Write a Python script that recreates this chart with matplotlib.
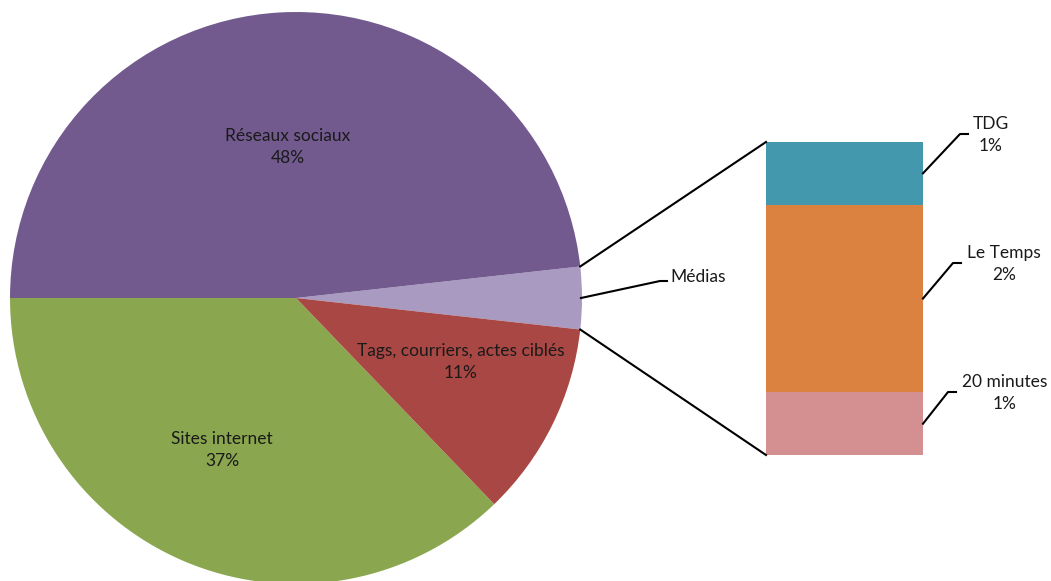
import numpy as np
import matplotlib
matplotlib.use('Agg')
import matplotlib.pyplot as plt

plt.rcParams['font.family'] = ['Lato', 'DejaVu Sans']

# pie data (counterclockwise from the right)
pie_labels = ['Médias', 'Réseaux sociaux', 'Sites internet', 'Tags, courriers, actes ciblés']
pie_values = [3.5, 48, 37, 11]
pie_colors = ['#a89ac0', '#725a8f', '#8aa64f', '#a94744']

# breakdown of "Médias" (top to bottom)
bar_labels = ['TDG', 'Le Temps', '20 minutes']
bar_values = [0.7, 2.1, 0.7]
bar_colors = ['#4398ae', '#db8240', '#d49090']

W, H = 1051, 581
fig = plt.figure(figsize=(W / 100, H / 100), dpi=100)
ax = fig.add_axes([0, 0, 1, 1])

cx, cy, r = 296, 581 - 298, 286
fs = 12.5
tcol = '#1a1a1a'
ls = 1.5

total = sum(pie_values)
med_angle = pie_values[0] / total * 360
start = -med_angle / 2
wedges, _ = ax.pie(pie_values, colors=pie_colors, startangle=start, counterclock=True,
                   center=(cx, cy), radius=r, frame=True,
                   wedgeprops=dict(linewidth=0))
ax.set_xlim(0, W)
ax.set_ylim(0, H)
ax.set_aspect('equal')
ax.axis('off')

# pie labels
pie_text_pos = {
    'Réseaux sociaux': (288, 147),
    'Sites internet': (222, 450),
    'Tags, courriers, actes ciblés': (461, 362),
}
for lab, val in zip(pie_labels, pie_values):
    if lab in pie_text_pos:
        x, y = pie_text_pos[lab]
        ax.text(x, H - y, f'{lab}\n{val:.0f}%', ha='center', va='center',
                fontsize=fs, color=tcol, linespacing=ls)

# Médias label with leader
ax.plot([581, 660, 667], [H - 298, H - 281, H - 281], color='black', lw=1.5)
ax.text(670, H - 277, pie_labels[0], ha='left', va='center', fontsize=fs, color=tcol)

# stacked bar
bx0, bx1 = 766, 923
btop, bbot = 142, 455
bar_px = bbot - btop
bsum = sum(bar_values)
y = H - btop
segs = []
for lab, val, col in zip(bar_labels, bar_values, bar_colors):
    h = val / bsum * bar_px
    ax.bar((bx0 + bx1) / 2, h, width=bx1 - bx0, bottom=y - h, color=col, linewidth=0)
    segs.append((y - h / 2, lab, val))
    y -= h

# connection lines from pie to bar
a1 = np.deg2rad(start + med_angle)
a0 = np.deg2rad(start)
ax.plot([cx + r * np.cos(a1), bx0], [cy + r * np.sin(a1), H - btop], color='black', lw=1.5)
ax.plot([cx + r * np.cos(a0), bx0], [cy + r * np.sin(a0), H - bbot], color='black', lw=1.5)

# bar labels with leaders
bar_label_pos = [((960, 134), (991, 135)), ((953, 263), (1004, 264)), ((948, 392), (1005, 393))]
for (ymid, lab, val), ((ex, ey), (tx, ty)) in zip(segs, bar_label_pos):
    ax.plot([bx1, ex, ex + 8], [ymid, H - ey, H - ey], color='black', lw=1.5)
    ax.text(tx, H - ty, f'{lab}\n{val:.0f}%', ha='center', va='center',
            fontsize=fs, color=tcol, linespacing=ls)

fig.savefig('out.png', dpi=100)
